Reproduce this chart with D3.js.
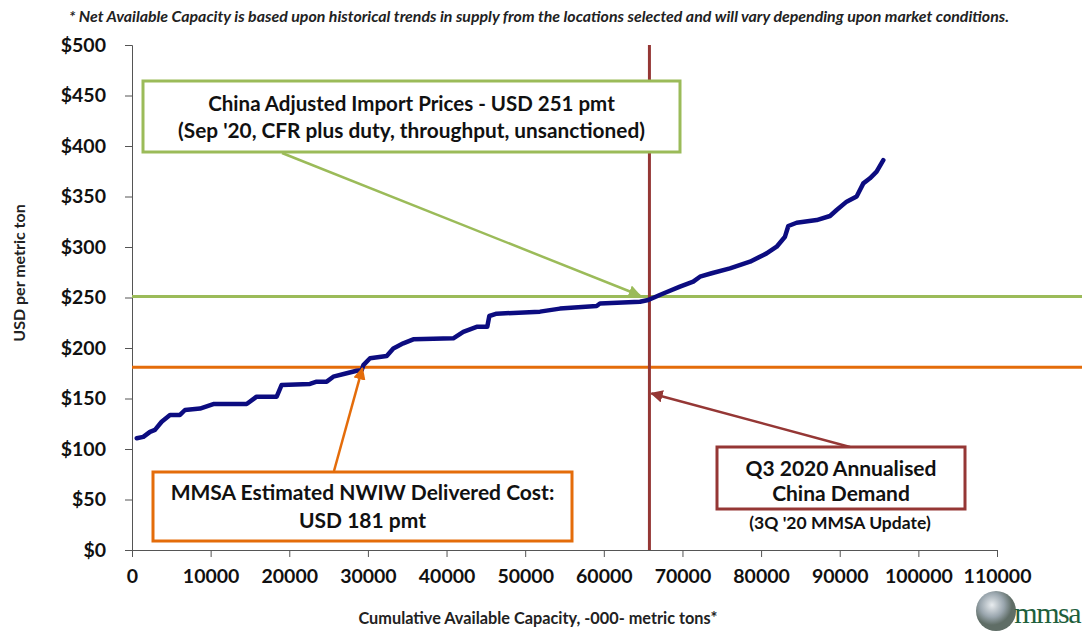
<!DOCTYPE html>
<html>
<head>
<meta charset="utf-8">
<script src="https://cdn.jsdelivr.net/npm/d3@7"></script>
<style>
  body { margin: 0; background: #fff; }
  svg { display: block; font-family: Lato, "Open Sans", sans-serif; }
  .tick text { font-weight: bold; fill: #111; }
</style>
</head>
<body>
<div id="chart"></div>
<script>
// cost curve (capacity in '000 t, USD per t)
const capacity = [600, 1440, 2290, 2920, 3770, 4830, 6100, 6740, 8650, 10340, 14580, 15850, 18400, 19030,
  22630, 23480, 24760, 25600, 27300, 28570, 29210, 29420, 30270, 32390, 33230, 34500, 35770, 40860,
  42130, 43830, 45180, 45440, 46370, 51880, 54420, 59090, 59510, 64600, 65650, 67560, 69680, 71370,
  72230, 73710, 76040, 78590, 80700, 81980, 83040, 83460, 84520, 87070, 88760, 89610, 90880, 92150,
  93000, 93840, 94690, 95540];
const price = [110.6, 112, 117, 119, 127, 133.7, 133.7, 138.6, 140, 144.5, 144.5, 151.8, 151.8, 163.4,
  164.4, 166.7, 166.7, 171.6, 175, 177.5, 178, 183, 189.8, 192, 199.5, 204.6, 208.6, 209.6,
  216, 221, 221, 231.7, 234, 236, 239, 241.6, 244, 245.8, 247.5, 254, 260.7, 265.7,
  270.6, 274, 278.9, 285.5, 293.7, 300.3, 310.2, 320.8, 324, 326.7, 330.7, 336.6, 344.9, 350,
  363, 368, 374.6, 386];

const importPrice = 251;     // green line
const nwiwCost = 181;        // orange line
const chinaDemand = 65800;   // brown vertical line

const xTicks = d3.range(0, 110001, 10000);
const yTicks = d3.range(0, 501, 50);

const note = "* Net Available Capacity is based upon historical trends in supply from the locations selected  and will vary depending upon market conditions.";

const width = 1085, height = 631;
const margin = {top: 45, right: 88, bottom: 81, left: 132};

const svg = d3.select("#chart").append("svg")
    .attr("width", width)
    .attr("height", height);

const x = d3.scaleLinear().domain([0, 110000]).range([margin.left, width - margin.right]);
const y = d3.scaleLinear().domain([0, 500]).range([height - margin.bottom, margin.top]);

const defs = svg.append("defs");
function arrowMarker(id, color) {
  defs.append("marker")
      .attr("id", id)
      .attr("viewBox", "0 0 10 10")
      .attr("refX", 9).attr("refY", 5)
      .attr("markerWidth", 5).attr("markerHeight", 5)
      .attr("markerUnits", "strokeWidth")
      .attr("orient", "auto")
    .append("path")
      .attr("d", "M0,0L10,5L0,10z")
      .attr("fill", color);
}
arrowMarker("arr-green", "#9bbb59");
arrowMarker("arr-orange", "#e46c0a");
arrowMarker("arr-red", "#953735");

// top note
svg.append("text")
    .attr("x", 539).attr("y", 22)
    .attr("text-anchor", "middle")
    .attr("font-size", 15.5)
    .attr("font-weight", "bold")
    .attr("font-style", "italic")
    .attr("fill", "#222")
    .attr("textLength", 940)
    .attr("lengthAdjust", "spacingAndGlyphs")
    .text(note);

// axes
const xAxis = svg.append("g")
    .attr("transform", `translate(0,${y(0)})`)
    .call(d3.axisBottom(x).tickValues(xTicks).tickFormat(d3.format("d")).tickSize(7).tickPadding(12));
const yAxis = svg.append("g")
    .attr("transform", `translate(${x(0)},0)`)
    .call(d3.axisLeft(y).tickValues(yTicks).tickFormat(d => "$" + d).tickSize(7).tickPadding(19));
[xAxis, yAxis].forEach(g => {
  g.attr("font-family", null).attr("font-size", null);
  g.select(".domain").attr("stroke", "#555");
  g.selectAll(".tick line").attr("stroke", "#555");
  g.selectAll(".tick text").attr("font-size", 19.5);
});

svg.append("text")
    .attr("x", 538).attr("y", 624)
    .attr("text-anchor", "middle")
    .attr("font-size", 16.3)
    .attr("font-weight", "bold")
    .attr("fill", "#222")
    .text("Cumulative Available Capacity, -000- metric tons*");

svg.append("text")
    .attr("transform", `translate(25,273) rotate(-90)`)
    .attr("text-anchor", "middle")
    .attr("font-size", 16)
    .attr("font-weight", "bold")
    .attr("fill", "#222")
    .text("USD per metric ton");

// reference lines
svg.append("line")
    .attr("x1", x(0)).attr("x2", width - 3)
    .attr("y1", y(importPrice)).attr("y2", y(importPrice))
    .attr("stroke", "#9bbb59").attr("stroke-width", 3);
svg.append("line")
    .attr("x1", x(0)).attr("x2", width - 3)
    .attr("y1", y(nwiwCost)).attr("y2", y(nwiwCost))
    .attr("stroke", "#e46c0a").attr("stroke-width", 3);
svg.append("line")
    .attr("x1", x(chinaDemand)).attr("x2", x(chinaDemand))
    .attr("y1", y(500)).attr("y2", y(0))
    .attr("stroke", "#953735").attr("stroke-width", 3);

// cost curve
const line = d3.line().x(d => x(d[0])).y(d => y(d[1]));
svg.append("path")
    .datum(d3.zip(capacity, price))
    .attr("d", line)
    .attr("fill", "none")
    .attr("stroke", "#0c0c80")
    .attr("stroke-width", 4.5)
    .attr("stroke-linejoin", "round")
    .attr("stroke-linecap", "round");

// annotation boxes
function box(b) {
  const g = svg.append("g");
  g.append("rect")
      .attr("x", b.x).attr("y", b.y).attr("width", b.w).attr("height", b.h)
      .attr("fill", "#fff").attr("stroke", b.color).attr("stroke-width", 3);
  b.lines.forEach((t, i) => {
    g.append("text")
        .attr("x", b.x + b.w / 2).attr("y", b.y + b.first + i * b.lh)
        .attr("text-anchor", "middle")
        .attr("font-size", b.size[i])
        .attr("font-weight", "bold")
        .attr("fill", "#111")
        .text(t);
  });
}
function arrow(x1, y1, x2, y2, color, id) {
  svg.append("line")
      .attr("x1", x1).attr("y1", y1).attr("x2", x2).attr("y2", y2)
      .attr("stroke", color).attr("stroke-width", 2.5)
      .attr("marker-end", `url(#${id})`);
}

arrow(282, 153, x(64600), y(importPrice) - 1, "#9bbb59", "arr-green");
arrow(334, 471, x(29300), y(nwiwCost) + 1, "#e46c0a", "arr-orange");
arrow(850, 447, x(chinaDemand) + 2, y(155), "#953735", "arr-red");

box({x: 143, y: 81, w: 537, h: 71, color: "#9bbb59", size: [20.5, 20.8], first: 29.5, lh: 27,
  lines: ["China Adjusted Import Prices - USD 251 pmt", "(Sep '20, CFR plus duty, throughput, unsanctioned)"]});
box({x: 153, y: 472, w: 419, h: 69, color: "#e46c0a", size: [21, 21], first: 27.5, lh: 28,
  lines: ["MMSA Estimated NWIW Delivered Cost:", "USD 181 pmt"]});
box({x: 717, y: 447, w: 248, h: 62, color: "#953735", size: [21, 21], first: 28.5, lh: 25,
  lines: ["Q3 2020 Annualised", "China Demand"]});
svg.append("text")
    .attr("x", 840).attr("y", 529)
    .attr("text-anchor", "middle")
    .attr("font-size", 17.5)
    .attr("font-weight", "bold")
    .attr("fill", "#111")
    .text("(3Q '20 MMSA Update)");

// logo
const grad = defs.append("radialGradient").attr("id", "globe").attr("cx", "40%").attr("cy", "35%");
grad.append("stop").attr("offset", "0%").attr("stop-color", "#e8ecef");
grad.append("stop").attr("offset", "60%").attr("stop-color", "#9aa6ae");
grad.append("stop").attr("offset", "100%").attr("stop-color", "#5f6d66");
svg.append("circle")
    .attr("cx", 996).attr("cy", 611).attr("r", 20)
    .attr("fill", "url(#globe)");
svg.append("text")
    .attr("x", 1080).attr("y", 623)
    .attr("text-anchor", "end")
    .attr("font-family", "'Liberation Serif', serif")
    .attr("font-size", 30)
    .attr("letter-spacing", -1.5)
    .attr("fill", "#1e5f3c")
    .text("mmsa");
</script>
</body>
</html>
